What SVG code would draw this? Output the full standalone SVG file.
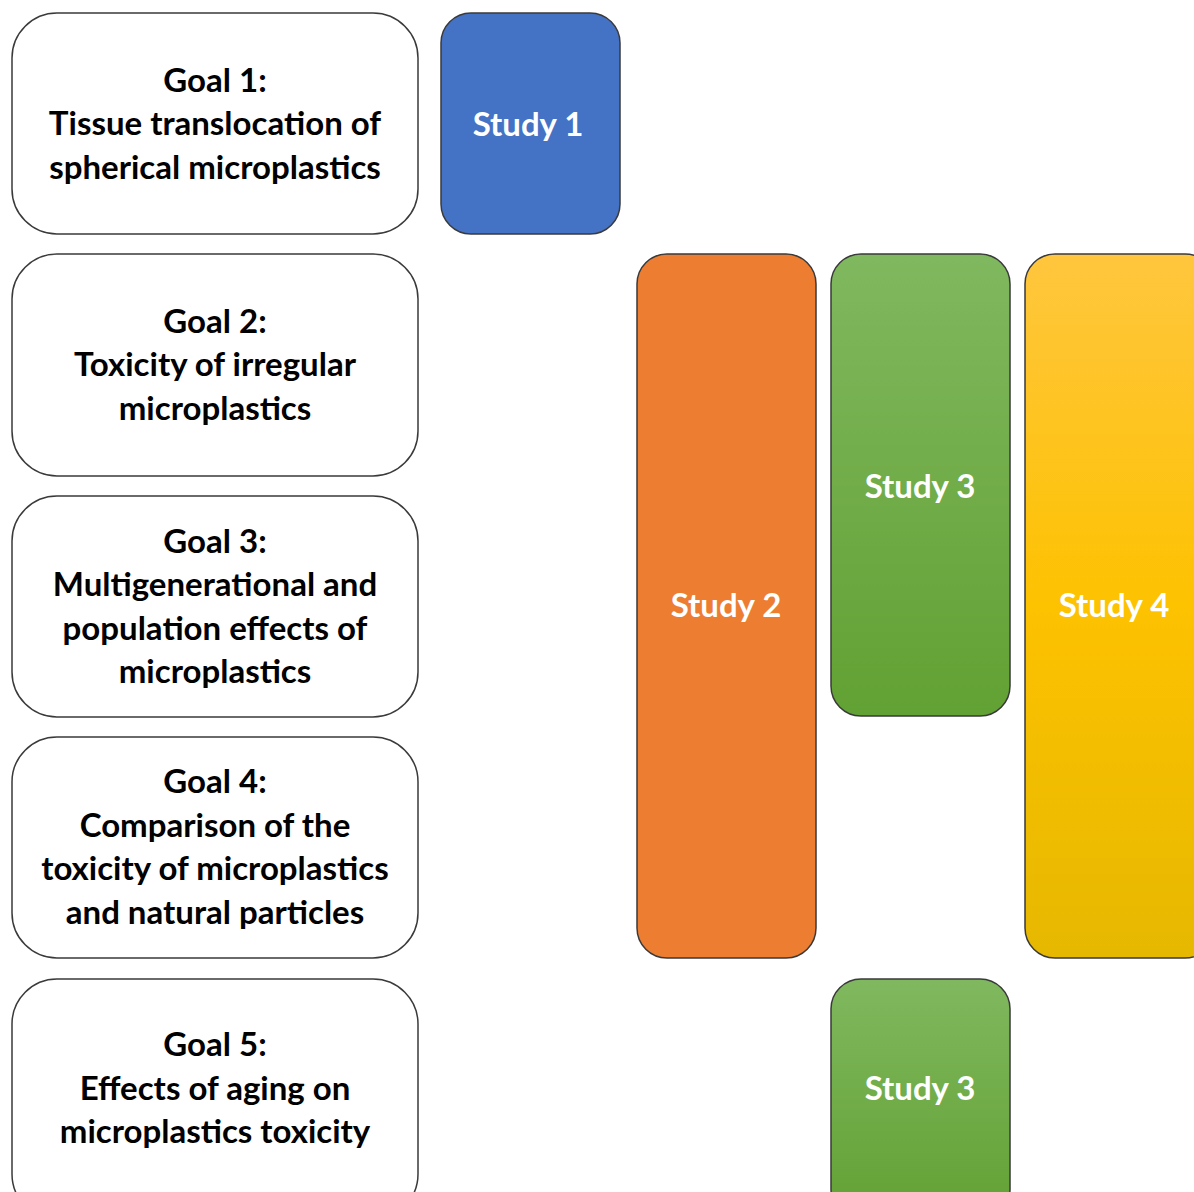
<svg xmlns="http://www.w3.org/2000/svg" width="1194" height="1192" viewBox="0 0 1194 1192">
<style>
.goal{fill:#fff;stroke:#3a3a3a;stroke-width:1.5}
.study{stroke:#3a3a3a;stroke-width:1.5}
.gt{font-family:Lato,"Open Sans","Liberation Sans",sans-serif;font-weight:bold;font-size:33px;fill:#000;text-anchor:middle}
.st{font-family:Lato,"Open Sans","Liberation Sans",sans-serif;font-weight:bold;font-size:33px;fill:#fff;text-anchor:middle}
</style>
<defs>
<linearGradient id="green" x1="0" y1="0" x2="0" y2="1"><stop offset="0" stop-color="#80b85f"/><stop offset="1" stop-color="#62a133"/></linearGradient>
<linearGradient id="yellow" x1="0" y1="0" x2="0" y2="1"><stop offset="0" stop-color="#ffc63e"/><stop offset="0.5" stop-color="#fdc200"/><stop offset="1" stop-color="#e6b800"/></linearGradient>
</defs>
<rect width="1194" height="1192" fill="#fff"/>
<g id="goal1"><rect class="goal" x="12" y="13" width="406" height="221" rx="45"/>
<text class="gt" x="215" y="92">Goal 1:</text><text class="gt" x="215" y="135">Tissue translocation of</text><text class="gt" x="215" y="179">spherical microplastics</text></g>
<g id="goal2"><rect class="goal" x="12" y="254" width="406" height="222" rx="45"/>
<text class="gt" x="215" y="333">Goal 2:</text><text class="gt" x="215" y="376">Toxicity of irregular</text><text class="gt" x="215" y="420">microplastics</text></g>
<g id="goal3"><rect class="goal" x="12" y="496" width="406" height="221" rx="45"/>
<text class="gt" x="215" y="553">Goal 3:</text><text class="gt" x="215" y="596">Multigenerational and</text><text class="gt" x="215" y="640">population effects of</text><text class="gt" x="215" y="683">microplastics</text></g>
<g id="goal4"><rect class="goal" x="12" y="737" width="406" height="221" rx="45"/>
<text class="gt" x="215" y="793">Goal 4:</text><text class="gt" x="215" y="837">Comparison of the</text><text class="gt" x="215" y="880">toxicity of microplastics</text><text class="gt" x="215" y="924">and natural particles</text></g>
<g id="goal5"><rect class="goal" x="12" y="979" width="406" height="240" rx="45"/>
<text class="gt" x="215" y="1056">Goal 5:</text><text class="gt" x="215" y="1100">Effects of aging on</text><text class="gt" x="215" y="1143">microplastics toxicity</text></g>
<g id="study1"><rect class="study" x="441" y="13" width="179" height="221" rx="30" fill="#4472c4"/><text class="st" x="528" y="136">Study 1</text></g>
<g id="study2"><rect class="study" x="637" y="254" width="179" height="704" rx="30" fill="#ed7d31"/><text class="st" x="726" y="617">Study 2</text></g>
<g id="study3a"><rect class="study" x="831" y="254" width="179" height="462" rx="30" fill="url(#green)"/><text class="st" x="920" y="498">Study 3</text></g>
<g id="study4"><rect class="study" x="1025" y="254" width="190" height="704" rx="30" fill="url(#yellow)"/><text class="st" x="1114" y="617">Study 4</text></g>
<g id="study3b"><rect class="study" x="831" y="979" width="179" height="240" rx="30" fill="url(#green)"/><text class="st" x="920" y="1100">Study 3</text></g>
<g id="connectors"/>
</svg>
